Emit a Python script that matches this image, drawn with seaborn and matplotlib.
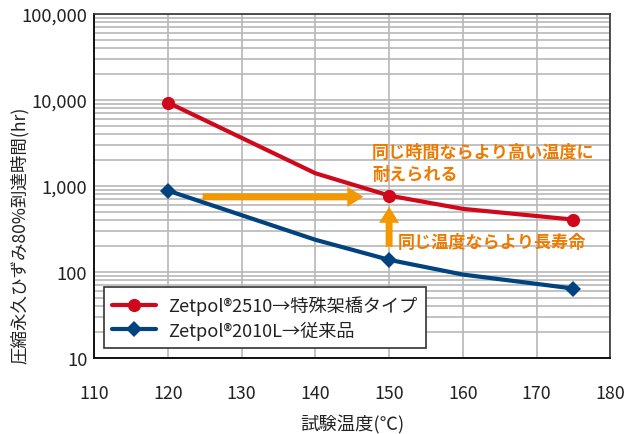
import matplotlib
matplotlib.use("Agg")
import matplotlib.pyplot as plt
from matplotlib.lines import Line2D
from matplotlib.patches import FancyArrowPatch
from matplotlib.ticker import FixedLocator, FuncFormatter, LogLocator, NullFormatter
import seaborn as sns
import pandas as pd

# ---- data ----
temps = [120, 140, 150, 160, 175]
zetpol_2510 = [9300, 1400, 770, 540, 405]
zetpol_2010l = [880, 236, 138, 93, 64]
marker_idx = [0, 2, 4]

series_labels = ["Zetpol®2510→特殊架橋タイプ", "Zetpol®2010L→従来品"]
x_ticks = [110, 120, 130, 140, 150, 160, 170, 180]
y_ticks = [10, 100, 1000, 10000, 100000]
xlabel = "試験温度(℃)"
ylabel = "圧縮永久ひずみ80%到達時間(hr)"
note_time = "同じ時間ならより高い温度に\n耐えられる"
note_temp = "同じ温度ならより長寿命"

# annotation arrow anchors (data space)
h_arrow_x = [124.7, 146.5]
h_arrow_y = 745
v_arrow_x = 150
v_arrow_y = [195, 570]

RED = "#D0081C"
BLUE = "#00437F"
ORANGE_ARROW = "#F39800"
ORANGE_TEXT = "#EE7A00"

sns.set_theme(style="white")
plt.rcParams["font.family"] = ["Noto Sans CJK JP", "DejaVu Sans"]

fig = plt.figure(figsize=(6.24, 4.35), dpi=100)
ax = fig.add_axes([0.151, 0.175, 0.827, 0.791])

df = pd.DataFrame({"temp": temps, "a": zetpol_2510, "b": zetpol_2010l})

sns.lineplot(data=df, x="temp", y="a", ax=ax, color=RED, lw=3.0,
             marker="o", markersize=9.5, markevery=marker_idx,
             markeredgewidth=0, zorder=5)
sns.lineplot(data=df, x="temp", y="b", ax=ax, color=BLUE, lw=3.0,
             marker="D", markersize=8.3, markevery=marker_idx,
             markeredgewidth=0, zorder=5)

ax.set_yscale("log")
ax.set_xlim(110, 180)
ax.set_ylim(10, 100000)

ax.xaxis.set_major_locator(FixedLocator(x_ticks))
ax.yaxis.set_major_locator(FixedLocator(y_ticks))
ax.yaxis.set_minor_locator(LogLocator(base=10, subs=range(2, 10)))
ax.yaxis.set_minor_formatter(NullFormatter())
ax.yaxis.set_major_formatter(FuncFormatter(lambda v, p: f"{int(round(v)):,}"))

ax.grid(True, which="major", axis="both", color="#B8B8B8", lw=1.2)
ax.grid(True, which="minor", axis="y", color="#B8B8B8", lw=1.2)
ax.set_axisbelow(True)

ax.tick_params(axis="both", which="both", length=0)
ax.tick_params(axis="x", labelsize=12.8, pad=19, colors="#222222")
ax.tick_params(axis="y", labelsize=13.2, pad=5, colors="#222222")

for s in ["left", "bottom"]:
    ax.spines[s].set_color("#111111")
    ax.spines[s].set_linewidth(1.4)
for s in ["top", "right"]:
    ax.spines[s].set_color("#333333")
    ax.spines[s].set_linewidth(1.2)

ax.set_xlabel(xlabel, fontsize=13.2, color="#222222")
ax.xaxis.set_label_coords(0.5, -0.163)
ax.set_ylabel(ylabel, fontsize=12.6, color="#222222")
ax.yaxis.set_label_coords(-0.127, 0.36)

# arrows
ha = FancyArrowPatch((h_arrow_x[0], h_arrow_y), (h_arrow_x[1], h_arrow_y),
                     arrowstyle="simple,head_length=11.5,head_width=14.5,tail_width=5",
                     mutation_scale=1, color=ORANGE_ARROW, lw=0,
                     shrinkA=0, shrinkB=0, zorder=4)
ax.add_patch(ha)
va = FancyArrowPatch((v_arrow_x, v_arrow_y[0]), (v_arrow_x, v_arrow_y[1]),
                     arrowstyle="simple,head_length=11.5,head_width=14.5,tail_width=5",
                     mutation_scale=1, color=ORANGE_ARROW, lw=0,
                     shrinkA=0, shrinkB=0, zorder=4)
ax.add_patch(va)

ax.text(147.7, 1850, note_time, fontsize=12.3, fontweight="bold",
        color=ORANGE_TEXT, ha="left", va="center", linespacing=1.3, zorder=6)
ax.text(151.2, 224, note_temp, fontsize=12.3, fontweight="bold",
        color=ORANGE_TEXT, ha="left", va="center", zorder=6)

handles = [
    Line2D([], [], color=RED, lw=3.0, marker="o", markersize=9.5, markeredgewidth=0),
    Line2D([], [], color=BLUE, lw=3.0, marker="D", markersize=8.3, markeredgewidth=0),
]
leg = ax.legend(handles, series_labels, loc="upper left",
                bbox_to_anchor=(0.019, 0.206), borderaxespad=0,
                fontsize=13.1, frameon=True, fancybox=False,
                handlelength=2.4, handletextpad=0.7, borderpad=0.45,
                labelspacing=0.3)
leg.get_frame().set_edgecolor("#333333")
leg.get_frame().set_linewidth(1.2)
leg.get_frame().set_alpha(1)
for t in leg.get_texts():
    t.set_color("#222222")

fig.savefig("out.png", dpi=100)
